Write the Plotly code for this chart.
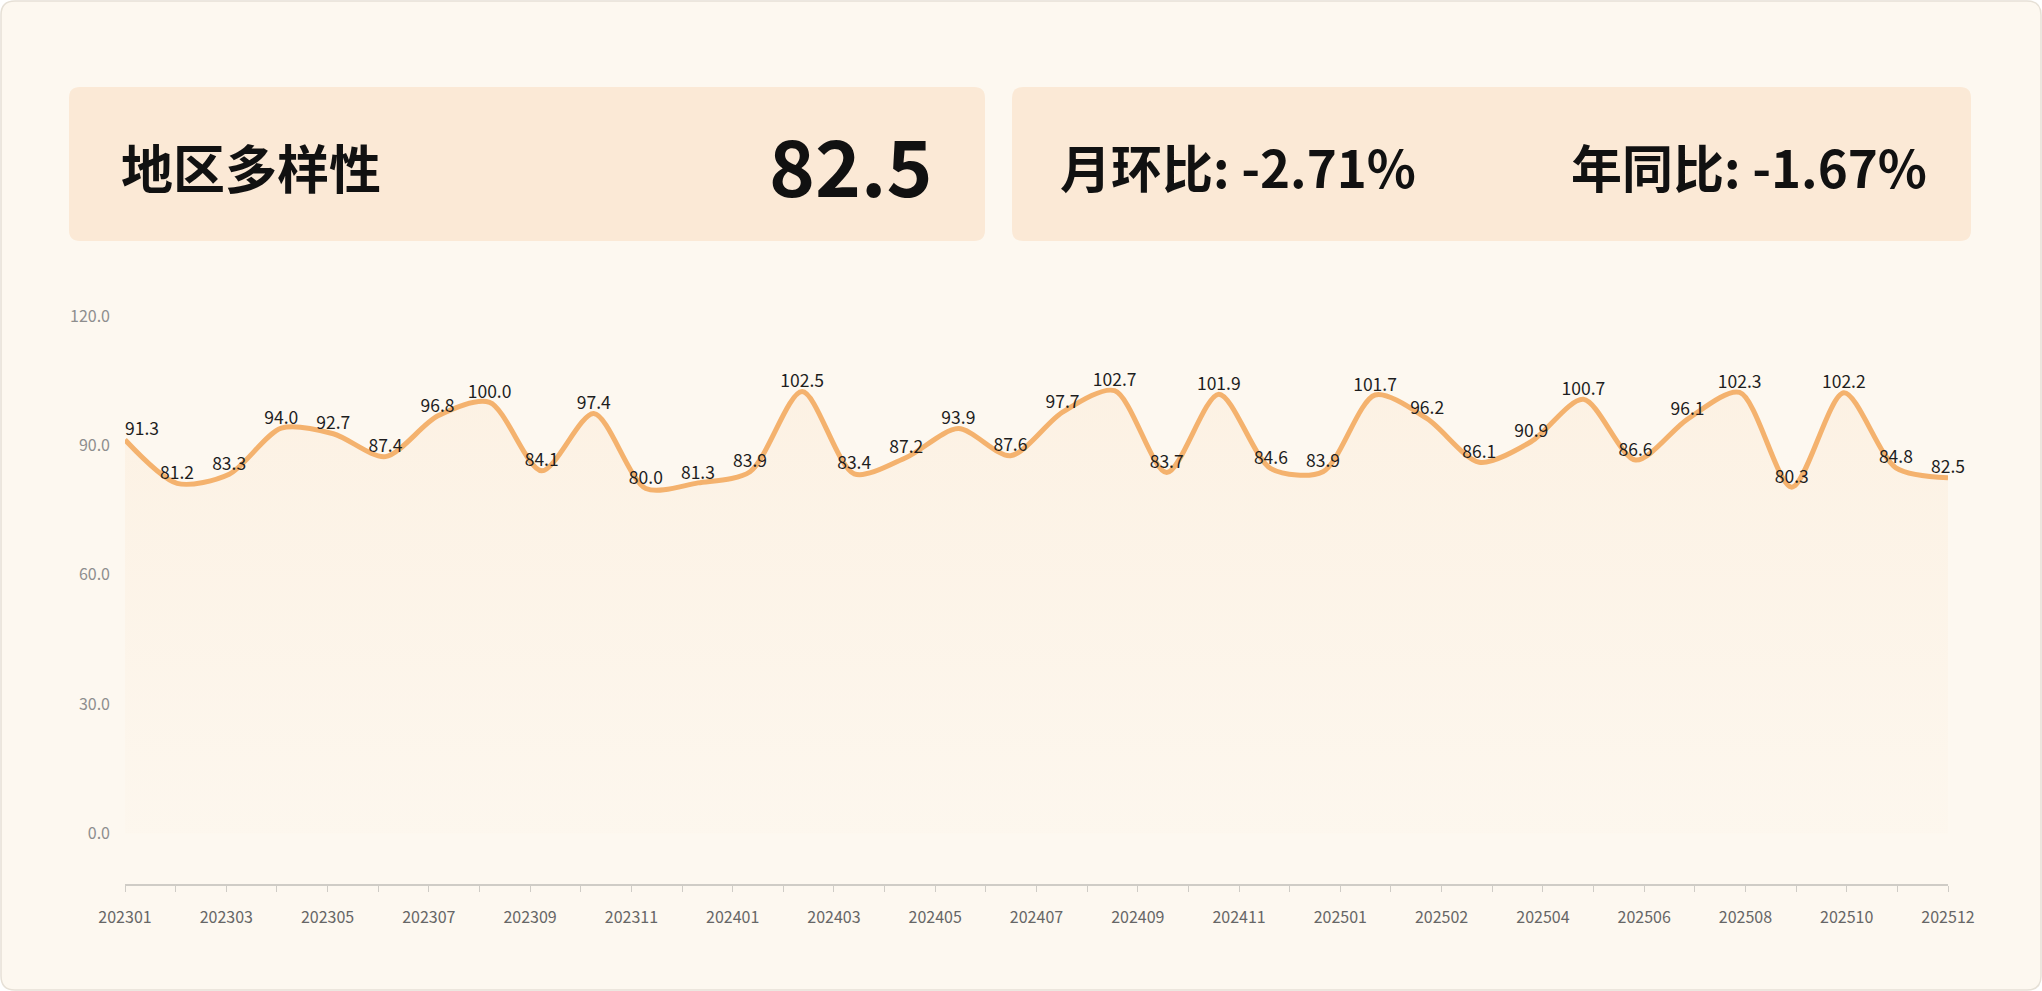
import plotly.graph_objects as go

# ---------------- data ----------------
months_tick_labels = ["202301", "202303", "202305", "202307", "202309", "202311",
                      "202401", "202403", "202405", "202407", "202409", "202411",
                      "202501", "202502", "202504", "202506", "202508", "202510", "202512"]
values = [91.3, 81.2, 83.3, 94.0, 92.7, 87.4, 96.8, 100.0, 84.1, 97.4, 80.0, 81.3,
          83.9, 102.5, 83.4, 87.2, 93.9, 87.6, 97.7, 102.7, 83.7, 101.9, 84.6, 83.9,
          101.7, 96.2, 86.1, 90.9, 100.7, 86.6, 96.1, 102.3, 80.3, 102.2, 84.8, 82.5]
y_ticks = [0, 30, 60, 90, 120]
kpi_title = "地区多样性"
kpi_value = "82.5"
mom_text = "月环比: -2.71%"
yoy_text = "年同比: -1.67%"

# ---------------- layout constants ----------------
W, H = 2042, 991
ML, MR, MT, MB = 125, 94, 314, 107
PW, PH = W - ML - MR, H - MT - MB
FONT = "Noto Sans CJK SC"


def px(x):
    return (x - ML) / PW


def py(y):
    return 1 - (y - MT) / PH


def rounded_rect(x0, y0, x1, y1, r):
    rx, ry = r / PW, r / PH
    X0, X1 = px(x0), px(x1)
    Y0, Y1 = py(y0), py(y1)  # Y0 top (larger), Y1 bottom
    return (f"M {X0+rx},{Y0} L {X1-rx},{Y0} Q {X1},{Y0} {X1},{Y0-ry} "
            f"L {X1},{Y1+ry} Q {X1},{Y1} {X1-rx},{Y1} "
            f"L {X0+rx},{Y1} Q {X0},{Y1} {X0},{Y1+ry} "
            f"L {X0},{Y0-ry} Q {X0},{Y0} {X0+rx},{Y0} Z")


x_idx = list(range(len(values)))
n_ticks = len(months_tick_labels) * 2 - 1
tickvals = [i * (len(values) - 1) / (n_ticks - 1) for i in range(n_ticks)]
ticktext = [months_tick_labels[i // 2] if i % 2 == 0 else "" for i in range(n_ticks)]

text_pos = ["top right"] + ["top center"] * (len(values) - 1)

fig = go.Figure()
fig.add_trace(go.Scatter(
    x=x_idx, y=values,
    mode="lines+text",
    line=dict(color="#F4B26E", width=5, shape="spline", smoothing=0.8),
    fill="tozeroy",
    fillgradient=dict(type="vertical",
                      colorscale=[[0, "rgba(246,190,130,0.02)"], [1, "rgba(246,190,130,0.11)"]],
                      start=0, stop=100),
    text=[f"{v:.1f}" for v in values],
    textposition=text_pos,
    textfont=dict(family=FONT, size=17.5, color="#1e1e1e"),
    cliponaxis=False,
    hoverinfo="skip",
    showlegend=False,
))

shapes = [
    dict(type="path", xref="paper", yref="paper", layer="below",
         path=rounded_rect(1, 1, W - 1, H - 1, 14),
         fillcolor="#FDF8F0", line=dict(color="#E6E0D6", width=1.5)),
    dict(type="path", xref="paper", yref="paper", layer="below",
         path=rounded_rect(69, 87, 985, 241, 11),
         fillcolor="#FBE9D6", line=dict(width=0)),
    dict(type="path", xref="paper", yref="paper", layer="below",
         path=rounded_rect(1012, 87, 1971, 241, 11),
         fillcolor="#FBE9D6", line=dict(width=0)),
]

annotations = [
    dict(xref="paper", yref="paper", x=px(119), y=py(166), xanchor="left", yanchor="middle",
         text=kpi_title, showarrow=False,
         font=dict(family=FONT, size=52, color="#111111", weight="bold")),
    dict(xref="paper", yref="paper", x=px(934), y=py(163), xanchor="right", yanchor="middle",
         text=kpi_value, showarrow=False,
         font=dict(family=FONT, size=78, color="#111111", weight="bold")),
    dict(xref="paper", yref="paper", x=px(1058), y=py(166), xanchor="left", yanchor="middle",
         text=mom_text, showarrow=False,
         font=dict(family=FONT, size=51, color="#111111", weight="bold")),
    dict(xref="paper", yref="paper", x=px(1929), y=py(166), xanchor="right", yanchor="middle",
         text=yoy_text, showarrow=False,
         font=dict(family=FONT, size=51, color="#111111", weight="bold")),
]

fig.update_layout(
    width=W, height=H,
    margin=dict(l=ML, r=MR, t=MT, b=MB, pad=0),
    paper_bgcolor="#FFFFFF",
    plot_bgcolor="rgba(0,0,0,0)",
    shapes=shapes,
    annotations=annotations,
    showlegend=False,
    font=dict(family=FONT),
    xaxis=dict(
        range=[0, len(values) - 1],
        tickmode="array", tickvals=tickvals, ticktext=ticktext,
        showgrid=False, zeroline=False,
        showline=True, linecolor="#CFCCC6", linewidth=1.5,
        ticks="outside", ticklen=6, tickcolor="#CFCCC6", tickwidth=1,
        tickfont=dict(family=FONT, size=16, color="#666666"),
        ticklabelstandoff=12,
        fixedrange=True,
    ),
    yaxis=dict(
        range=[-11.8, 120.5],
        tickmode="array", tickvals=y_ticks, ticktext=[f"{v:.1f}" for v in y_ticks],
        showgrid=False, zeroline=False, showline=False,
        ticks="",
        tickfont=dict(family=FONT, size=16, color="#8E8E8E"),
        ticklabelstandoff=14,
        fixedrange=True,
    ),
)

fig.write_html("out.html")
